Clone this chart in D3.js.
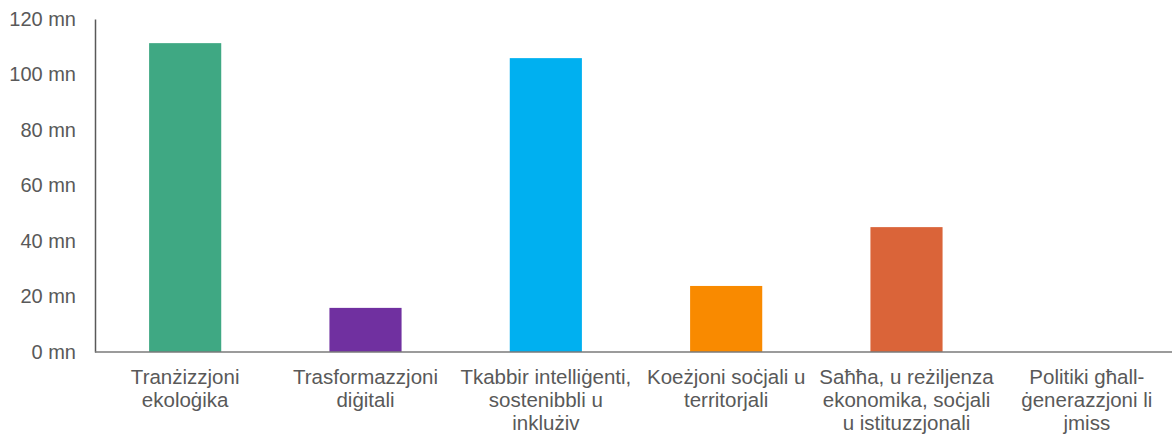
<!DOCTYPE html>
<html><head><meta charset="utf-8">
<script src="https://cdn.jsdelivr.net/npm/d3@7"></script>
<style>body{margin:0;background:#fff}svg{display:block}text{font-family:"Liberation Sans",Arial,sans-serif}</style>
</head><body><svg id="c" width="1172" height="437"></svg>
<script>
const categories = [
  ["Tranżizzjoni", "ekoloġika"],
  ["Trasformazzjoni", "diġitali"],
  ["Tkabbir intelliġenti,", "sostenibbli u", "inklużiv"],
  ["Koeżjoni soċjali u", "territorjali"],
  ["Saħħa, u reżiljenza", "ekonomika, soċjali", "u istituzzjonali"],
  ["Politiki għall-", "ġenerazzjoni li", "jmiss"]
];
const values = [111.3, 15.9, 105.9, 23.8, 45.0, 0];
const colors = ["#3FA883", "#7030A0", "#00B0F0", "#F98A00", "#DA6439", "#A5A5A5"];
const yTicks = [0, 20, 40, 60, 80, 100, 120];

const svg = d3.select("#c");
const x = d3.scaleBand().domain(d3.range(categories.length)).range([95, 1177]).paddingInner(0.6).paddingOuter(0.3);
const y = d3.scaleLinear().domain([0, 120]).range([352, 19]);

svg.selectAll("rect.bar").data(values).join("rect")
  .attr("class", "bar")
  .attr("x", (d, i) => x(i))
  .attr("width", x.bandwidth())
  .attr("y", d => y(d))
  .attr("height", d => y(0) - y(d))
  .attr("fill", (d, i) => colors[i]);

// y axis
const ya = svg.append("g").attr("transform", "translate(95,0)")
  .call(d3.axisLeft(y).tickValues(yTicks).tickSize(0).tickPadding(19).tickFormat(d => d + " mn"));
ya.select(".domain").attr("stroke", "#595959").attr("stroke-width", 1.5);
ya.selectAll("text").attr("fill", "#595959").attr("font-size", null)
  .style("font-size", "20px").style("font-family", "Liberation Sans, Arial, sans-serif");
ya.attr("font-size", "20px");

// x axis
const xa = svg.append("g").attr("transform", "translate(0,352)")
  .call(d3.axisBottom(x).tickSize(0).tickFormat(""));
xa.select(".domain").attr("stroke", "#7a7a7a").attr("stroke-width", 1.5).attr("d", "M95,0H1172");

svg.selectAll("text.cat").data(categories).join("text")
  .attr("class", "cat")
  .attr("text-anchor", "middle")
  .attr("fill", "#595959")
  .style("font-size", "20.5px")
  .attr("transform", (d, i) => `translate(${x(i) + x.bandwidth() / 2},384)`)
  .selectAll("tspan").data(d => d).join("tspan")
  .attr("x", 0)
  .attr("dy", (d, j) => j === 0 ? 0 : 22.8)
  .text(d => d);
</script></body></html>
